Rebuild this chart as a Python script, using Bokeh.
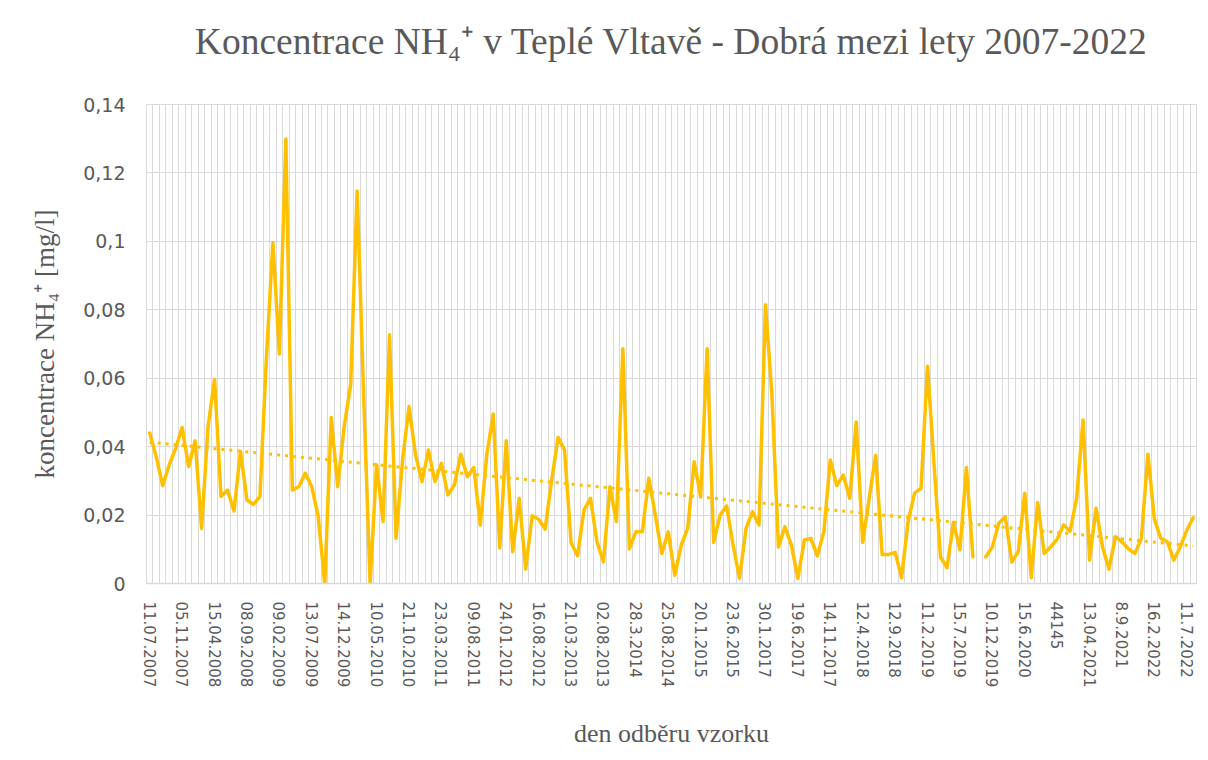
import numpy as np
from bokeh.plotting import figure
from bokeh.models import FixedTicker, Range1d, LinearAxis
from bokeh.embed import file_html
from bokeh.resources import INLINE

# ---- data ----
values = [
    0.044, 0.037, 0.0286, 0.0347, 0.0395, 0.0456, 0.0342, 0.0417, 0.0161, 0.0459,
    0.0596, 0.0254, 0.0273, 0.0212, 0.0386, 0.0244, 0.0231, 0.0254, 0.0659, 0.0996,
    0.0671, 0.1299, 0.0273, 0.0283, 0.0322, 0.0283, 0.0195, 0.0, 0.0485, 0.0283,
    0.0459, 0.0581, 0.1147, 0.055, 0.0, 0.0347, 0.0181, 0.0727, 0.0132, 0.036,
    0.0517, 0.0376, 0.0298, 0.039, 0.0298, 0.0351, 0.0259, 0.0288, 0.0378, 0.0312,
    0.0339, 0.0171, 0.0376, 0.0495, 0.0104, 0.0417, 0.0093, 0.0249, 0.0042, 0.0198,
    0.0188, 0.0159, 0.03, 0.0427, 0.039, 0.012, 0.0081, 0.0215, 0.0249, 0.0122,
    0.0063, 0.0283, 0.0181, 0.0686, 0.0101, 0.0151, 0.0151, 0.0308, 0.02, 0.0088,
    0.0151, 0.0024, 0.0112, 0.0161, 0.0356, 0.0254, 0.0686, 0.012, 0.02, 0.0227,
    0.0112, 0.0015, 0.0161, 0.021, 0.0171, 0.0815, 0.055, 0.0107, 0.0166, 0.0112,
    0.0015, 0.0127, 0.0132, 0.0081, 0.0151, 0.0361, 0.0286, 0.0317, 0.0249, 0.0472,
    0.012, 0.0249, 0.0374, 0.0085, 0.0085, 0.0091, 0.0017, 0.0181, 0.0264, 0.0278,
    0.0635, 0.035, 0.0078, 0.0046, 0.0179, 0.0098, 0.0339, 0.0078, float("nan"), 0.0078,
    0.0107, 0.0176, 0.0195, 0.0063, 0.0093, 0.0264, 0.0017, 0.0237, 0.0088, 0.0107,
    0.013, 0.0171, 0.0153, 0.0249, 0.0478, 0.0068, 0.022, 0.0107, 0.0042, 0.0137,
    0.0122, 0.0101, 0.0088, 0.0132, 0.0378, 0.0188, 0.0132, 0.0122, 0.0068, 0.0107,
    0.0156, 0.0192,
]

date_labels = [
    "11.07.2007", "05.11.2007", "15.04.2008", "08.09.2008", "09.02.2009", "13.07.2009",
    "14.12.2009", "10.05.2010", "21.10.2010", "23.03.2011", "09.08.2011", "24.01.2012",
    "16.08.2012", "21.03.2013", "02.08.2013", "28.3.2014", "25.08.2014", "20.1.2015",
    "23.6.2015", "30.1.2017", "19.6.2017", "14.11.2017", "12.4.2018", "12.9.2018",
    "11.2.2019", "15.7.2019", "10.12.2019", "15.6.2020", "44145", "13.04.2021",
    "8.9.2021", "16.2.2022", "11.7.2022",
]
label_step = 5

y_ticks = [0, 0.02, 0.04, 0.06, 0.08, 0.1, 0.12, 0.14]
y_tick_labels = ["0", "0,02", "0,04", "0,06", "0,08", "0,1", "0,12", "0,14"]

TITLE = "Koncentrace NH\u2084\u207a v Teplé Vltavě - Dobrá mezi lety 2007-2022"
Y_LABEL = "koncentrace NH\u2084\u207a [mg/l]"
X_LABEL = "den odběru vzorku"

# ---- derived ----
N = len(values)
xs = np.arange(N)
vals = np.array(values, dtype=float)
ok = ~np.isnan(vals)
slope, intercept = np.polyfit(xs[ok], vals[ok], 1)
trend_x = [0, N - 1]
trend_y = [intercept + slope * t for t in trend_x]

TEXT = "#595959"
GRID = "#D9D9D9"
GOLD = "#FFC000"

W, H = 1199, 752
p = figure(
    width=W, height=H,
    output_backend="svg", toolbar_location=None,
    x_range=Range1d(-0.5, N - 0.5), y_range=Range1d(0, 0.14),
    min_border_left=146, min_border_right=3, min_border_top=104, min_border_bottom=169,
)
p.outline_line_color = GRID
p.background_fill_color = "white"
p.title.text = ""
p.title.standoff = 0

# chart title drawn as the label of a tick-less axis above the frame
top_axis = LinearAxis(
    ticker=FixedTicker(ticks=[]),
    axis_line_color=None, major_tick_line_color=None, minor_tick_line_color=None,
    major_label_standoff=0, major_tick_out=0, major_tick_in=0,
    axis_label=TITLE, axis_label_text_font="Liberation Serif",
    axis_label_text_font_size="37.5px", axis_label_text_font_style="normal",
    axis_label_text_color=TEXT, axis_label_standoff=43,
)
p.add_layout(top_axis, "above")

# grids
p.xgrid.ticker = FixedTicker(ticks=[i - 0.5 for i in range(N + 1)])
p.xgrid.grid_line_color = GRID
p.xgrid.grid_line_width = 1
p.ygrid.ticker = FixedTicker(ticks=y_ticks)
p.ygrid.grid_line_color = GRID
p.ygrid.grid_line_width = 1

# x axis
xaxis = p.below[0]
label_pos = [i * label_step for i in range(len(date_labels))]
xaxis.ticker = FixedTicker(ticks=label_pos)
xaxis.major_label_overrides = {pos: lab for pos, lab in zip(label_pos, date_labels)}
xaxis.major_label_orientation = "vertical"
xaxis.major_label_text_font = "DejaVu Sans"
xaxis.major_label_text_font_size = "15px"
xaxis.major_label_text_color = TEXT
xaxis.major_label_standoff = 12
xaxis.major_tick_line_color = None
xaxis.minor_tick_line_color = None
xaxis.axis_line_color = GRID
xaxis.axis_line_width = 1.5
xaxis.axis_label = X_LABEL
xaxis.axis_label_text_font = "Liberation Serif"
xaxis.axis_label_text_font_size = "26px"
xaxis.axis_label_text_font_style = "normal"
xaxis.axis_label_text_color = TEXT
xaxis.axis_label_standoff = 29

# y axis
p.yaxis.ticker = FixedTicker(ticks=y_ticks)
p.yaxis.major_label_overrides = {t: lab for t, lab in zip(y_ticks, y_tick_labels)}
p.yaxis.major_label_text_font = "DejaVu Sans"
p.yaxis.major_label_text_font_size = "19px"
p.yaxis.major_label_text_color = TEXT
p.yaxis.major_label_standoff = 15
p.yaxis.major_tick_line_color = None
p.yaxis.minor_tick_line_color = None
p.yaxis.axis_line_color = None
p.yaxis.axis_label = Y_LABEL
p.yaxis.axis_label_text_font = "Liberation Serif"
p.yaxis.axis_label_text_font_size = "27px"
p.yaxis.axis_label_text_font_style = "normal"
p.yaxis.axis_label_text_color = TEXT
p.yaxis.axis_label_standoff = 20

# data line and linear trend
p.line(xs, vals, line_color=GOLD, line_width=3.5, line_join="round", line_cap="round")
p.line(trend_x, trend_y, line_color=GOLD, line_width=3, line_dash="3 5", line_cap="butt")

open("out.html", "w").write(file_html(p, INLINE))
